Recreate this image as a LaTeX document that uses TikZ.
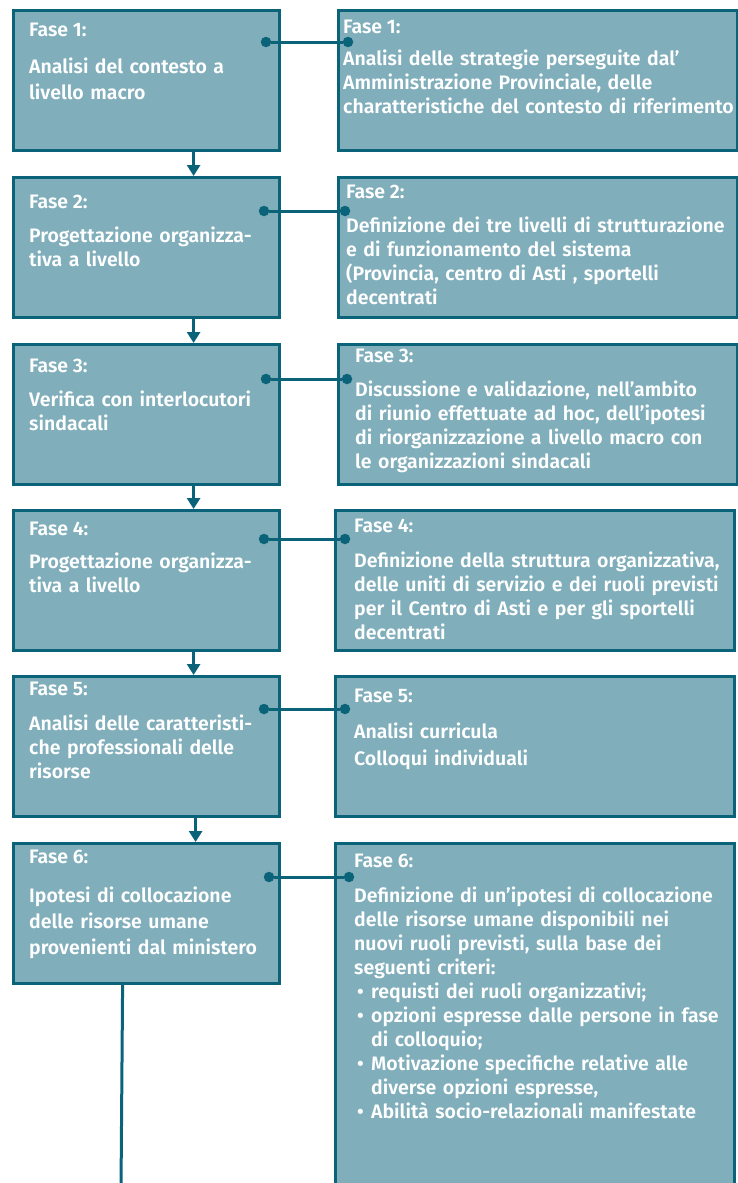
\documentclass[tikz,border=0pt]{standalone}
\usepackage{fontspec}
\setmainfont{Fira Sans}[UprightFont={* SemiBold}]
\usetikzlibrary{arrows.meta}

\definecolor{boxfill}{HTML}{80AEBB}
\definecolor{boxline}{HTML}{0B6379}

\tikzset{
  phase/.style={rectangle, draw=boxline, line width=3.2pt, fill=boxfill,
                inner sep=0pt, anchor=north west},
  lbox/.style={phase, minimum width=266pt, minimum height=140pt},
  rbox/.style={phase, minimum width=399pt, minimum height=140pt},
  head/.style={text=white, inner sep=0pt, anchor=base west,
               font=\fontsize{19.5}{24}\selectfont},
  body/.style={text=white, inner sep=0pt, anchor=base west, align=left,
               text width=398pt, font=\fontsize{19.5}{#1}\selectfont},
  body/.default=24,
  dot/.style={circle, fill=boxline, inner sep=0pt, minimum size=10.5pt},
  link/.style={draw=boxline, line width=3pt},
  flow/.style={draw=boxline, line width=3pt,
               -{Triangle[width=13pt,length=11pt]}},
  tail/.style={draw=boxline, line width=3pt},
}

\newcommand{\bul}{\hspace*{3pt}\makebox[14pt][l]{•}}
\newcommand{\cont}{\hspace*{17pt}}

\begin{document}
\begin{tikzpicture}[x=1pt, y=-1pt]
  \useasboundingbox (0,0) rectangle (738,1183);

  % left column: phases
  \node[lbox] (l1) at (12,9)   {};
  \node[lbox] (l2) at (12,176) {};
  \node[lbox] (l3) at (12,343) {};
  \node[lbox] (l4) at (12,509) {};
  \node[lbox] (l5) at (12,675) {};
  \node[lbox] (l6) at (12,842) {};

  % right column: details
  \node[rbox] (r1) at (337,9)   {};
  \node[rbox] (r2) at (337,176) {};
  \node[rbox] (r3) at (337,343) {};
  \node[rbox] (r4) at (334,509) {};
  \node[rbox] (r5) at (334,675) {};
  \node[rbox, minimum height=360pt] (r6) at (334,842) {};

  % flow arrows between phases
  \draw[flow] ([xshift=47pt]l1.south) -- ([xshift=47pt]l2.north);
  \draw[flow] ([xshift=47pt]l2.south) -- ([xshift=47pt]l3.north);
  \draw[flow] ([xshift=47pt]l3.south) -- ([xshift=47pt]l4.north);
  \draw[flow] ([xshift=47pt]l4.south) -- ([xshift=47pt]l5.north);
  \draw[flow] ([xshift=49pt]l5.south) -- ([xshift=49pt]l6.north);
  \coordinate (end) at (121,1190);
  \draw[tail] ([xshift=-24pt]l6.south) -- (end);

  % dot connectors
  \node[dot] (a1) at (266,42)  {}; \node[dot] (b1) at (348,42)  {};
  \node[dot] (a2) at (264,211) {}; \node[dot] (b2) at (345,211) {};
  \node[dot] (a3) at (266,379) {}; \node[dot] (b3) at (347,379) {};
  \node[dot] (a4) at (264,539) {}; \node[dot] (b4) at (345,539) {};
  \node[dot] (a5) at (264,709) {}; \node[dot] (b5) at (345,709) {};
  \node[dot] (a6) at (269,877) {}; \node[dot] (b6) at (349,877) {};
  \foreach \i in {1,...,6} \draw[link] (a\i) -- (b\i);

  % left texts
  \node[head] (lh1) at (29,36)  {Fase 1:};
  \node[body=26] (lt1) at (29,73) {Analisi del contesto a\\livello macro};
  \node[head] (lh2) at (29,208) {Fase 2:};
  \node[body] (lt2) at (29,242) {Progettazione organizza-\\tiva a livello};
  \node[head] (lh3) at (29,372) {Fase 3:};
  \node[body] (lt3) at (29,406) {Verifica con interlocutori\\sindacali};
  \node[head] (lh4) at (29,535) {Fase 4:};
  \node[body] (lt4) at (29,568) {Progettazione organizza-\\tiva a livello};
  \node[head] (lh5) at (29,695) {Fase 5:};
  \node[body] (lt5) at (29,730) {Analisi delle caratteristi-\\che professionali delle\\risorse};
  \node[head] (lh6) at (29,863) {Fase 6:};
  \node[body=26] (lt6) at (29,902) {Ipotesi di collocazione\\delle risorse umane\\provenienti dal ministero};

  % right texts
  \node[head] (rh1) at (343,33) {Fase 1:};
  \node[body] (rt1) at (343,65) {Analisi delle strategie perseguite dal’\\Amministrazione Provinciale, delle\\charatteristiche del contesto di riferimento};
  \node[head] (rh2) at (346,198) {Fase 2:};
  \node[body] (rt2) at (346,232) {Definizione dei tre livelli di strutturazione\\e di funzionamento del sistema\\(Provincia, centro di Asti , sportelli\\decentrati};
  \node[head] (rh3) at (355,362) {Fase 3:};
  \node[body] (rt3) at (355,396) {Discussione e validazione, nell’ambito\\di riunio effettuate ad hoc, dell’ipotesi\\di riorganizzazione a livello macro con\\le organizzazioni sindacali};
  \node[head] (rh4) at (354,532) {Fase 4:};
  \node[body] (rt4) at (354,567) {Definizione della struttura organizzativa,\\delle uniti di servizio e dei ruoli previsti\\per il Centro di Asti e per gli sportelli\\decentrati};
  \node[head] (rh5) at (354,702) {Fase 5:};
  \node[body=27] (rt5) at (354,738) {Analisi curricula\\Colloqui individuali};
  \node[head] (rh6) at (354,867) {Fase 6:};
  \node[body] (rt6) at (354,902) {Definizione di un’ipotesi di collocazione\\delle risorse umane disponibili nei\\nuovi ruoli previsti, sulla base dei\\seguenti criteri:\\
    \bul requisti dei ruoli organizzativi;\\
    \bul opzioni espresse dalle persone in fase\\\cont di colloquio;\\
    \bul Motivazione specifiche relative alle\\\cont diverse opzioni espresse,\\
    \bul Abilità socio-relazionali manifestate};
\end{tikzpicture}
\end{document}
